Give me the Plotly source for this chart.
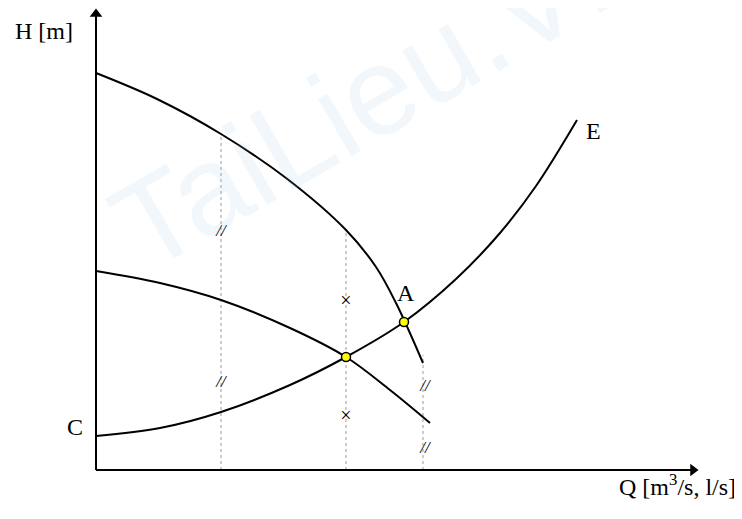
import plotly.graph_objects as go

# curve points (Q to the right, H up, origin at the axes corner)
pump_q = [0, 61, 125, 190, 250, 280, 300, 327]
pump_h = [397, 371, 336, 292, 240, 203, 167, 107]

pump2_q = [0, 64, 125, 194, 250, 294, 334]
pump2_h = [199, 187, 170, 142, 113, 80, 47]

system_q = [0, 64, 125, 194, 250, 308, 360, 404, 440, 481]
system_h = [34, 42, 58, 85, 113, 148, 191, 237, 284, 350]

guide_q = [125, 250, 327]
guide_top = [336, 240, 115]

cut_q = [125, 125, 329, 329]
cut_h = [238, 87, 83, 21]
cross_q = [250, 250]
cross_h = [168, 53]

work_q = [250, 308]
work_h = [113, 148]

axis_q_end = 597
axis_h_end = 456

serif = "Liberation Serif, Times New Roman, serif"

fig = go.Figure()

for q, top in zip(guide_q, guide_top):
    fig.add_trace(go.Scatter(x=[q, q], y=[0, top], mode="lines",
                             line=dict(color="#9a9a9a", width=1, dash="dot"),
                             hoverinfo="skip"))

for q, h in [(pump_q, pump_h), (pump2_q, pump2_h), (system_q, system_h)]:
    fig.add_trace(go.Scatter(x=q, y=h, mode="lines", line_shape="spline",
                             line=dict(color="black", width=2), hoverinfo="skip"))

# axes with arrow heads
fig.add_trace(go.Scatter(x=[0, 0, None, 0, axis_q_end], y=[axis_h_end, 0, None, 0, 0],
                         mode="lines", line=dict(color="black", width=2),
                         hoverinfo="skip"))
fig.add_trace(go.Scatter(x=[0, axis_q_end], y=[axis_h_end, 0], mode="markers",
                         marker=dict(symbol=["triangle-up", "triangle-right"], size=11,
                                     color="black", line_width=0),
                         hoverinfo="skip"))

fig.add_trace(go.Scatter(x=cut_q, y=cut_h, mode="text", text=["<i>//</i>"] * len(cut_q),
                         textfont=dict(family=serif, size=17, color="black"),
                         hoverinfo="skip"))
fig.add_trace(go.Scatter(x=cross_q, y=cross_h, mode="text", text=["×"] * len(cross_q),
                         textfont=dict(family=serif, size=20, color="black"),
                         hoverinfo="skip"))

fig.add_trace(go.Scatter(x=work_q, y=work_h, mode="markers",
                         marker=dict(color="yellow", size=9,
                                     line=dict(color="black", width=1.5)),
                         hoverinfo="skip"))

labels = [
    (-52, 439, "H [m]"),
    (-21, 43, "C"),
    (497, 339, "E"),
    (310, 177, "A"),
    (581, -15, "Q [m<sup>3</sup>/s, l/s]"),
]
for x, y, t in labels:
    fig.add_annotation(x=x, y=y, text=t, showarrow=False,
                       font=dict(family=serif, size=24, color="black"))

# faint watermark
fig.add_annotation(x=289, y=384, text="TaiLieu.VN", showarrow=False, textangle=-30,
                   font=dict(family="Arial", size=125, color="rgba(150,190,230,0.12)"))

# the page body adds an 8px offset, so the ranges are shifted to compensate
fig.update_layout(
    width=742, height=519,
    margin=dict(l=0, r=0, t=0, b=0, autoexpand=False),
    plot_bgcolor="white", paper_bgcolor="white",
    showlegend=False,
    xaxis=dict(range=[-88, 654], visible=False, fixedrange=True),
    yaxis=dict(range=[-57, 462], visible=False, fixedrange=True),
)

fig.write_html("out.html")
